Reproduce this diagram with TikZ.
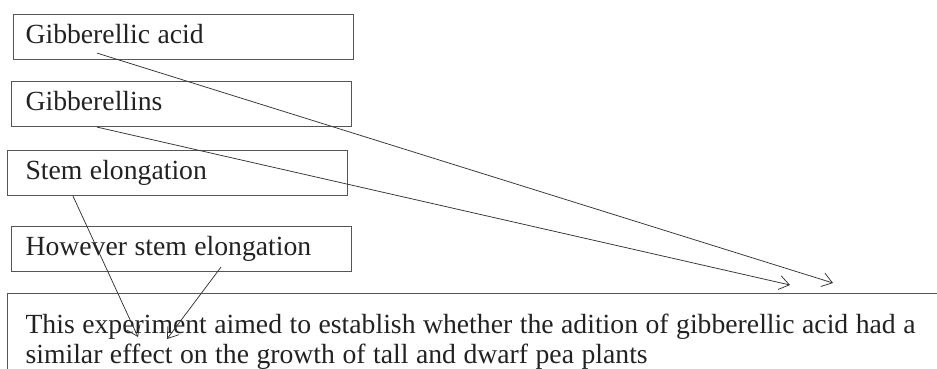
\documentclass[tikz,border=0pt]{standalone}
\usepackage{fontspec}
\setmainfont{Liberation Serif}
\usetikzlibrary{arrows.meta}
\definecolor{boxline}{HTML}{555555}
\definecolor{txt}{HTML}{222222}
\definecolor{arr}{HTML}{333333}
\tikzset{
  termbox/.style={draw=boxline, line width=1.1pt, anchor=north west, text=txt,
    minimum height=45pt, inner ysep=0pt, align=left,
    font=\fontsize{27.7}{30}\selectfont, text height=19pt, text depth=6pt,
    execute at begin node={\spaceskip=7.5pt\relax}},
  aimbox/.style={draw=boxline, line width=1.1pt, anchor=north west, text=txt, align=left,
    inner xsep=18pt, inner ysep=20pt, text width=930pt,
    font=\fontsize{27.7}{30}\selectfont,
    execute at begin node={\spaceskip=7.5pt\relax}},
  link/.style={draw=arr, line width=0.75pt, -{Straight Barb[length=10pt,width=14pt,line width=0.75pt]}}
}
\begin{document}
\begin{tikzpicture}[x=1pt,y=-1pt]
\useasboundingbox (0,0) rectangle (937,369);
\node[termbox, inner xsep=12pt, text width=316pt] (g1) at (13,14) {Gibberellic acid};
\node[termbox, inner xsep=14pt, text width=312pt] (g2) at (11,81) {Gibberellins};
\node[termbox, inner xsep=18pt, text width=304pt] (g3) at (7,150) {Stem elongation};
\node[termbox, inner xsep=14pt, text width=312pt] (g4) at (11,226) {However stem elongation};
\node[aimbox] (aim) at (7,293)
  {This experiment aimed to establish whether the adition of gibberellic acid had a\\
   similar effect on the growth of tall and dwarf pea plants};
\coordinate (ea) at (833,283);
\coordinate (eb) at (790,285);
\coordinate (ec) at (138,337);
\coordinate (ed) at (167,339);
\draw[link] ([xshift=84pt,yshift=7pt]g1.south west) -- (ea);
\draw[link] ([xshift=86pt]g2.south west) -- (eb);
\draw[link] ([xshift=66pt]g3.south west) -- (ec);
\draw[link] ([xshift=210pt,yshift=5pt]g4.south west) -- (ed);
\end{tikzpicture}
\end{document}
